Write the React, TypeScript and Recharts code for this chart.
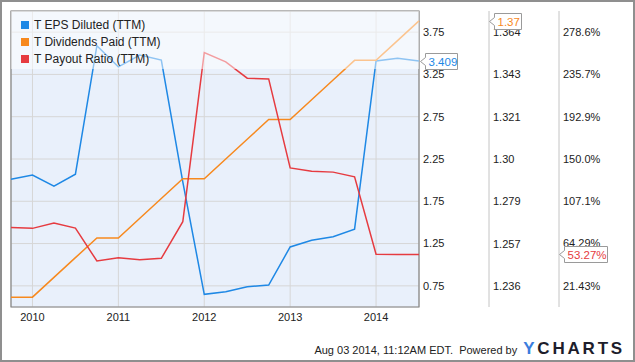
import { CartesianGrid, Legend, Line, LineChart, ReferenceArea, XAxis, YAxis } from "recharts";

const period = [
    2009.75, 2010, 2010.25, 2010.5, 2010.75, 2011, 2011.25, 2011.5, 2011.75, 2012,
    2012.25, 2012.5, 2012.75, 2013, 2013.25, 2013.5, 2013.75, 2014, 2014.25, 2014.5,
];
const epsDiluted = [
    2.01, 2.06, 1.93, 2.07, 3.59, 3.34, 3.48, 3.42, 1.98, 0.65,
    0.68, 0.74, 0.76, 1.21, 1.29, 1.33, 1.42, 3.41, 3.44, 3.409,
];
const dividendsPaid = [
    1.23, 1.23, 1.24, 1.25, 1.26, 1.26, 1.27, 1.28, 1.29, 1.29,
    1.3, 1.31, 1.32, 1.32, 1.33, 1.34, 1.35, 1.35, 1.36, 1.37,
];
const payoutRatio = [
    80.7, 79.7, 85.0, 80.0, 46.6, 49.9, 47.9, 49.3, 86.4, 257.9,
    248.4, 231.9, 231.2, 141.0, 137.7, 136.7, 131.9, 53.4, 53.3, 53.27,
];

const yearTicks = [2010, 2011, 2012, 2013, 2014];
const epsTicks = [0.75, 1.25, 1.75, 2.25, 2.75, 3.25, 3.75];
const divTicks = [1.2357, 1.2571, 1.2786, 1.3, 1.3214, 1.3429, 1.3643];
const divTickLabels = ["1.236", "1.257", "1.279", "1.30", "1.321", "1.343", "1.364"];
const payoutTicks = [21.43, 64.29, 107.14, 150, 192.86, 235.71, 278.57];
const payoutTickLabels = ["21.43%", "64.29%", "107.1%", "150.0%", "192.9%", "235.7%", "278.6%"];

const seriesNames = ["T EPS Diluted (TTM)", "T Dividends Paid (TTM)", "T Payout Ratio (TTM)"];
const seriesColors = ["#1e88e5", "#f7891e", "#e63b40"];

const FONT = '"Liberation Sans", Arial, sans-serif';
const tickStyle = { fontSize: 11, fill: "#222", fontFamily: FONT };

const data = period.map((t, i) => ({
    t,
    eps: epsDiluted[i],
    div: dividendsPaid[i],
    payout: payoutRatio[i],
}));

// value tag drawn beside the axis at the last point of a series
function endTag(color: string, shift: number, boxW: number, suffix = "") {
    return (props: any) => {
        if (props.index !== period.length - 1) return null;
        const x0 = Math.round(Number(props.x) + shift) + 0.5;
        const y0 = Math.round(Number(props.y)) + 0.5;
        const d = `M${x0},${y0} L${x0 + 5},${y0 - 4} L${x0 + 5},${y0 - 8} L${x0 + 5 + boxW},${y0 - 8} L${x0 + 5 + boxW},${y0 + 8} L${x0 + 5},${y0 + 8} L${x0 + 5},${y0 + 4} Z`;
        return (
            <g>
                <path d={d} fill="#fff" stroke="#9a9a9a" />
                <text x={x0 + 8} y={y0} dy="0.35em" fill={color} fontSize={11.5} fontFamily={FONT}>
                    {props.value + suffix}
                </text>
            </g>
        );
    };
}

const LegendBox = () => (
    <div style={{ paddingTop: 5, paddingLeft: 10, fontFamily: FONT, fontSize: 12, color: "#222" }}>
        {seriesNames.map((name, i) => (
            <div key={name} style={{ display: "flex", alignItems: "center", height: 17 }}>
                <span style={{ width: 8, height: 8, background: seriesColors[i], marginRight: 5 }} />
                {name}
            </div>
        ))}
    </div>
);

const App = () => {
    return (
        <div style={{ position: "absolute", left: 0, top: 0, width: 635, height: 362, background: "#fff" }}>
            <LineChart width={635} height={362} data={data} margin={{ top: 11, right: 4, bottom: 35, left: 11 }}>
                <CartesianGrid yAxisId="a_eps" stroke="#d6d6d6" fill="#e9f0fb" fillOpacity={1} />
                <XAxis
                    dataKey="t"
                    type="number"
                    domain={[2009.75, 2014.5]}
                    ticks={yearTicks}
                    height={20}
                    tickSize={0}
                    tickMargin={6}
                    axisLine={false}
                    tick={tickStyle}
                />
                <YAxis
                    yAxisId="a_eps"
                    orientation="right"
                    domain={[0.5, 4]}
                    ticks={epsTicks}
                    width={70}
                    tickSize={0}
                    tickMargin={4}
                    axisLine={false}
                    tick={{ ...tickStyle, textAnchor: "start" }}
                    tickFormatter={(v: number) => v.toFixed(2)}
                />
                <YAxis
                    yAxisId="b_div"
                    orientation="right"
                    domain={[1.225, 1.375]}
                    ticks={divTicks}
                    width={70}
                    tickSize={0}
                    tickMargin={4}
                    axisLine={{ stroke: "#c4c4c4" }}
                    tick={{ ...tickStyle, textAnchor: "start" }}
                    tickFormatter={(_v: number, i: number) => divTickLabels[i]}
                />
                <YAxis
                    yAxisId="c_payout"
                    orientation="right"
                    domain={[0, 300]}
                    ticks={payoutTicks}
                    width={72}
                    tickSize={0}
                    tickMargin={4}
                    axisLine={{ stroke: "#c4c4c4" }}
                    tick={{ ...tickStyle, textAnchor: "start" }}
                    tickFormatter={(_v: number, i: number) => payoutTickLabels[i]}
                />
                <ReferenceArea yAxisId="a_eps" x1={2009.75} x2={2014.5} y1={0.5} y2={4} fill="none" stroke="#858585" strokeWidth={1.2} />
                <Line yAxisId="a_eps" type="linear" dataKey="eps" stroke={seriesColors[0]} strokeWidth={1.5} dot={false} activeDot={false} isAnimationActive={false} label={endTag(seriesColors[0], 1, 32)} />
                <Line yAxisId="b_div" type="linear" dataKey="div" stroke={seriesColors[1]} strokeWidth={1.5} dot={false} activeDot={false} isAnimationActive={false} label={endTag(seriesColors[1], 70, 27)} />
                <Line yAxisId="c_payout" type="linear" dataKey="payout" stroke={seriesColors[2]} strokeWidth={1.5} dot={false} activeDot={false} isAnimationActive={false} label={endTag(seriesColors[2], 140, 43, "%")} />
                <Legend
                    layout="vertical"
                    align="center"
                    verticalAlign="middle"
                    wrapperStyle={{ top: 11, left: 11, width: 408, height: 58, background: "rgba(255,255,255,0.5)" }}
                    content={() => <LegendBox />}
                />
            </LineChart>
            <div style={{ position: "absolute", left: 0, top: 339, width: 625, textAlign: "right", fontFamily: FONT, whiteSpace: "nowrap" }}>
                <span style={{ fontSize: 11, color: "#222", marginRight: 6 }}>Aug 03 2014, 11:12AM EDT.&nbsp; Powered by</span>
                <span style={{ fontSize: 17, fontWeight: "bold", letterSpacing: 2.8, color: "#1d1d2b" }}>
                    <span style={{ color: "#3b7ddd" }}>Y</span>CHARTS
                </span>
            </div>
            <div style={{ position: "absolute", left: 0, top: 0, width: 635, height: 362, boxSizing: "border-box", border: "2px solid #8f8f8f", pointerEvents: "none" }} />
        </div>
    );
};

export default App;
